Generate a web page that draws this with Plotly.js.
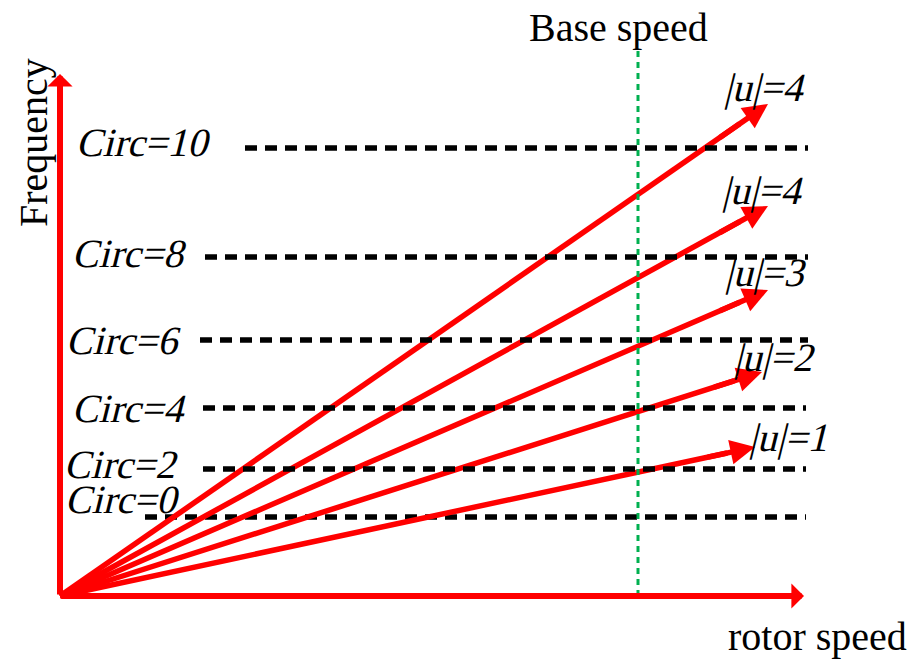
<!DOCTYPE html>
<html>
<head>
<meta charset="utf-8">
<script src="https://cdn.plot.ly/plotly-3.0.1.min.js"></script>
<style>
  html, body { margin: 0; padding: 0; background: #fff; }
  #chart { width: 911px; height: 661px; }
  /* slanted serif for the math-style labels */
  .slanted { transform-box: fill-box; transform-origin: center; transform: skewX(-14deg); }
</style>
</head>
<body>
<div id="chart"></div>
<script>
// Circulation levels: horizontal dashed frequency lines
const circLabels = ['Circ=0', 'Circ=2', 'Circ=4', 'Circ=6', 'Circ=8', 'Circ=10'];
const circFreq   = [79, 127, 188, 256, 339, 448];
const circStart  = [85, 143, 143, 140, 145, 185];
const circEnd    = [746, 746, 746, 748, 748, 748];

// Rays from the origin, one per |u|
const uLabels    = ['|u|=1', '|u|=2', '|u|=3', '|u|=4', '|u|=4'];
const uEndSpeed  = [695, 702, 708, 708, 708];
const uEndFreq   = [149, 224, 306, 390, 492];

// Base speed marker and axis extents
const baseSpeed  = 578;
const baseTop    = 546;
const speedMax   = 744;
const freqMax    = 522;

const RED = '#ff0000';
const SERIF = 'Liberation Serif';
const FS = 40;

const traces = [];

function circTrace(i) {
  return {
    type: 'scatter', mode: 'lines',
    x: [circStart[i], circEnd[i]], y: [circFreq[i], circFreq[i]],
    line: { color: '#000', width: 5.5, dash: '12px,8px' },
    hoverinfo: 'skip', showlegend: false
  };
}
// Circ=0 line sits under the rays
traces.push(circTrace(0));

// Rays
for (let i = 0; i < uLabels.length; i++) {
  traces.push({
    type: 'scatter', mode: 'lines',
    x: [0, uEndSpeed[i] * 0.96], y: [0, uEndFreq[i] * 0.96],
    line: { color: RED, width: 5.5 },
    hoverinfo: 'skip', showlegend: false
  });
}

// Remaining circulation lines drawn above the rays
for (let i = 1; i < circLabels.length; i++) traces.push(circTrace(i));

// Base speed (dotted green)
traces.push({
  type: 'scatter', mode: 'lines',
  x: [baseSpeed, baseSpeed], y: [0, baseTop],
  line: { color: '#00b050', width: 3, dash: '6px,5px' },
  hoverinfo: 'skip', showlegend: false
});

const annotations = [];

// Arrowheads at the ray ends
for (let i = 0; i < uLabels.length; i++) {
  annotations.push({
    x: uEndSpeed[i], y: uEndFreq[i], xref: 'x', yref: 'y',
    ax: uEndSpeed[i] * 0.93, ay: uEndFreq[i] * 0.93, axref: 'x', ayref: 'y',
    text: '', showarrow: true, arrowhead: 2, arrowsize: 0.9,
    arrowwidth: 5.5, arrowcolor: RED
  });
}

// Axis arrows
annotations.push({
  x: speedMax, y: 0, xref: 'x', yref: 'y', ax: 0, ay: 0, axref: 'x', ayref: 'y',
  text: '', showarrow: true, arrowhead: 1, arrowsize: 0.7, arrowwidth: 6, arrowcolor: RED
});
annotations.push({
  x: 0, y: freqMax, xref: 'x', yref: 'y', ax: 0, ay: 0, axref: 'x', ayref: 'y',
  text: '', showarrow: true, arrowhead: 1, arrowsize: 0.7, arrowwidth: 6, arrowcolor: RED
});

const textFont = { family: SERIF, size: FS, color: '#000' };

// Circulation labels
const circLabelPos = [[121, 97], [120, 132], [128, 188], [122, 256], [128, 343], [152, 454]];
for (let i = 0; i < circLabels.length; i++) {
  annotations.push({
    x: circLabelPos[i][0], y: circLabelPos[i][1], xref: 'x', yref: 'y',
    text: circLabels[i], showarrow: false,
    xanchor: 'right', yanchor: 'middle', font: textFont
  });
}

// |u| labels
const uLabelPos = [[690, 159], [675, 239], [666, 324], [663, 406], [665, 509]];
for (let i = 0; i < uLabels.length; i++) {
  annotations.push({
    x: uLabelPos[i][0], y: uLabelPos[i][1], xref: 'x', yref: 'y',
    text: uLabels[i], showarrow: false,
    xanchor: 'left', yanchor: 'middle', font: textFont
  });
}

// Axis and marker titles
annotations.push({
  x: baseSpeed - 20, y: 569, xref: 'x', yref: 'y', text: 'Base speed', showarrow: false,
  xanchor: 'center', yanchor: 'middle', font: textFont
});
annotations.push({
  x: 757, y: -40, xref: 'x', yref: 'y', text: 'rotor speed', showarrow: false,
  xanchor: 'center', yanchor: 'middle', font: textFont
});
annotations.push({
  x: -27, y: 453, xref: 'x', yref: 'y', text: 'Frequency', showarrow: false,
  textangle: -90, xanchor: 'center', yanchor: 'middle', font: textFont
});

const layout = {
  width: 911, height: 661,
  margin: { l: 0, r: 0, t: 0, b: 0 },
  paper_bgcolor: '#fff', plot_bgcolor: '#fff',
  xaxis: { range: [-60, 851], visible: false, fixedrange: true },
  yaxis: { range: [-65, 596], visible: false, fixedrange: true },
  showlegend: false,
  annotations: annotations
};

Plotly.newPlot('chart', traces, layout, { displayModeBar: false, staticPlot: true }).then(function () {
  // Slant the Circ and |u| labels like italic serif
  const slanted = new Set(circLabels.concat(uLabels));
  document.querySelectorAll('#chart .annotation-text').forEach(function (el) {
    if (slanted.has(el.textContent)) el.classList.add('slanted');
  });
});
</script>
</body>
</html>
